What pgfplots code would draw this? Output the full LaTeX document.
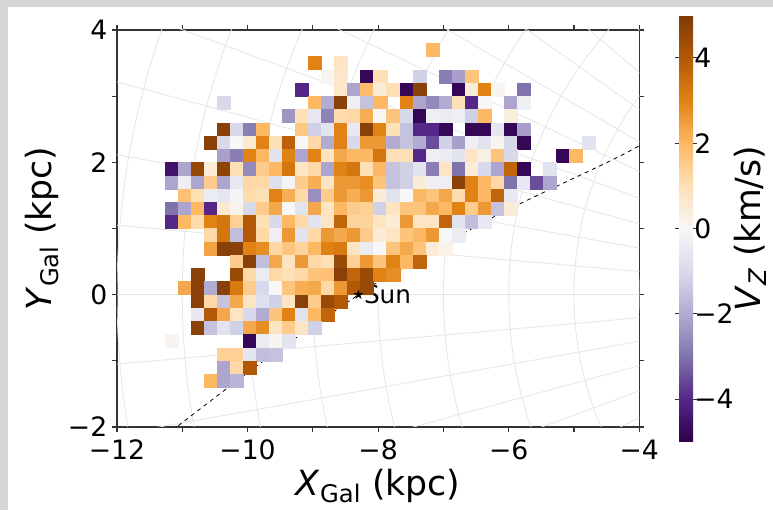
\documentclass[border=0pt]{standalone}
\usepackage{fontspec}
\setmainfont{DejaVu Sans}
\usepackage{pgfplots}
\pgfplotsset{compat=1.18}
\definecolor{gridc}{HTML}{E6E6E6}
\definecolor{frame}{HTML}{D6D6D6}
\definecolor{spine}{HTML}{333333}

\pgfplotsset{
  colormap={puor}{rgb255=(45,0,75) rgb255=(84,39,136) rgb255=(128,115,172)
    rgb255=(178,171,210) rgb255=(216,218,235) rgb255=(247,247,247)
    rgb255=(254,224,182) rgb255=(253,184,99) rgb255=(224,130,20)
    rgb255=(179,88,6) rgb255=(127,59,8)},
}

\begin{document}
\begin{tikzpicture}
% page: 773x510 px at 0.75pt/px, axis box at px (117..639, 30..427)
\fill[frame] (-87.75pt,-62.25pt) rectangle (492pt,320.25pt);
\fill[white] (-81.75pt,-62.25pt) rectangle (492pt,315pt);
\begin{axis}[
  name=ax, at={(0,0)}, anchor=south west,
  width=391.7pt, height=297.75pt, scale only axis,
  xmin=-12, xmax=-4, ymin=-2, ymax=4,
  xtick={-12,-10,-8,-6,-4}, xticklabels={−12,−10,−8,−6,−4},
  ytick={-2,0,2,4}, yticklabels={−2,0,2,4},
  minor xtick={-11,-9,-7,-5}, minor ytick={-1,1,3},
  tick label style={font=\fontsize{20}{24}\selectfont},
  xticklabel style={yshift=-2.5pt},
  label style={font=\fontsize{26}{30}\selectfont},
  xlabel={\textit{X}\textsubscript{Gal} (kpc)},
  ylabel={\textit{Y}\textsubscript{Gal} (kpc)},
  tick align=outside, xtick pos=both, ytick pos=both,
  xticklabel pos=bottom, yticklabel pos=left,
  major tick length=3.75pt, minor tick length=3.75pt,
  axis line style={spine, line width=0.8pt},
  every tick/.style={spine, line width=0.8pt},
  every minor tick/.style={spine, line width=0.8pt},
  point meta min=-5, point meta max=5,
  colormap name=puor,
  colorbar,
  colorbar style={
    at={(parent axis.east)}, anchor=west, xshift=21.3pt,
    width=10.5pt, height=320pt, scale only axis,
    ytick={-4,-2,0,2,4}, yticklabels={−4,−2,0,2,4},
    yticklabel style={font=\fontsize{20}{24}\selectfont, inner xsep=0pt, xshift=-2.5pt},
    ylabel={\textit{V}\textsubscript{\textit{Z}} (km/s)},
    ylabel style={font=\fontsize{26}{30}\selectfont, inner sep=0pt},
    tick align=outside, major tick length=3.2pt,
    axis line style={draw=none},
    every tick/.style={spine, line width=0.8pt},
  },
]
% galactocentric polar grid
\pgfplotsinvokeforeach{4,5,...,13}{
  \draw[gridc, line width=0.6pt] (axis cs:0,0) ellipse [x radius=#1, y radius=#1];
}
\addplot[gridc, line width=0.6pt, forget plot] coordinates {(0,0) (-18.13,-8.45)};
\addplot[gridc, line width=0.6pt, forget plot] coordinates {(0,0) (-18.79,-6.84)};
\addplot[gridc, line width=0.6pt, forget plot] coordinates {(0,0) (-19.32,-5.18)};
\addplot[gridc, line width=0.6pt, forget plot] coordinates {(0,0) (-19.70,-3.47)};
\addplot[gridc, line width=0.6pt, forget plot] coordinates {(0,0) (-19.92,-1.74)};
\addplot[gridc, line width=0.6pt, forget plot] coordinates {(0,0) (-20,0)};
\addplot[gridc, line width=0.6pt, forget plot] coordinates {(0,0) (-19.92,1.74)};
\addplot[gridc, line width=0.6pt, forget plot] coordinates {(0,0) (-19.70,3.47)};
\addplot[gridc, line width=0.6pt, forget plot] coordinates {(0,0) (-19.32,5.18)};
\addplot[gridc, line width=0.6pt, forget plot] coordinates {(0,0) (-18.79,6.84)};
\addplot[gridc, line width=0.6pt, forget plot] coordinates {(0,0) (-18.13,8.45)};
\addplot[gridc, line width=0.6pt, forget plot] coordinates {(0,0) (-17.32,10)};
\addplot[gridc, line width=0.6pt, forget plot] coordinates {(0,0) (-16.38,11.47)};
\addplot[gridc, line width=0.6pt, forget plot] coordinates {(0,0) (-15.32,12.86)};
\addplot[gridc, line width=0.6pt, forget plot] coordinates {(0,0) (-14.14,14.14)};

% binned V_Z map (0.2 kpc cells)
\addplot[scatter, only marks, mark=square*, mark size=4.9pt,
  mark options={line width=0.2pt}, point meta=explicit,
  scatter/use mapped color={draw=mapped color, fill=mapped color}]
coordinates {
(-7.17,3.7)[2.0]
(-8.97,3.5)[3.0] (-8.57,3.5)[0.8]
(-8.77,3.3)[0.1] (-8.57,3.3)[0.7] (-8.17,3.3)[-4.8] (-7.97,3.3)[1.0] (-7.37,3.3)[-1.2] (-6.97,3.3)[-2.8] (-6.77,3.3)[-2.2] (-6.57,3.3)[1.7]
(-9.17,3.1)[-4.0] (-8.57,3.1)[0.7] (-8.37,3.1)[-2.1] (-8.17,3.1)[1.9] (-7.97,3.1)[0.5] (-7.77,3.1)[1.0] (-7.57,3.1)[-4.8] (-7.37,3.1)[4.8] (-6.77,3.1)[-4.8] (-6.57,3.1)[0.5] (-6.37,3.1)[3.0] (-6.17,3.1)[0.1] (-5.77,3.1)[-3.0]
(-10.37,2.9)[-1.0] (-8.97,2.9)[2.0] (-8.77,2.9)[-2.0] (-8.57,2.9)[4.8] (-8.37,2.9)[-0.3] (-8.17,2.9)[-1.5] (-7.97,2.9)[2.0] (-7.57,2.9)[3.0] (-7.37,2.9)[-2.1] (-7.17,2.9)[-2.6] (-6.97,2.9)[-2.0] (-6.77,2.9)[1.0] (-6.57,2.9)[-4.0] (-6.37,2.9)[0.0] (-5.97,2.9)[-2.1] (-5.77,2.9)[-0.3]
(-9.37,2.7)[-2.4] (-9.17,2.7)[1.0] (-8.97,2.7)[-0.5] (-8.77,2.7)[-2.7] (-8.57,2.7)[1.1] (-8.37,2.7)[1.2] (-8.17,2.7)[2.2] (-7.97,2.7)[0.0] (-7.77,2.7)[1.7] (-7.57,2.7)[-1.0] (-7.37,2.7)[-4.8] (-7.17,2.7)[-0.3] (-6.97,2.7)[-0.4] (-6.77,2.7)[-0.3] (-6.57,2.7)[-1.2] (-6.37,2.7)[2.0] (-5.97,2.7)[0.4]
(-10.37,2.5)[4.8] (-10.17,2.5)[-1.0] (-9.97,2.5)[-2.8] (-9.77,2.5)[2.0] (-9.17,2.5)[1.6] (-8.97,2.5)[-1.2] (-8.77,2.5)[-0.7] (-8.57,2.5)[3.0] (-8.37,2.5)[-0.5] (-8.17,2.5)[4.8] (-7.97,2.5)[3.0] (-7.77,2.5)[1.0] (-7.57,2.5)[-1.5] (-7.37,2.5)[-4.0] (-7.17,2.5)[-4.0] (-6.97,2.5)[-4.8] (-6.57,2.5)[-4.8] (-6.37,2.5)[-4.8] (-6.17,2.5)[-0.6] (-5.97,2.5)[-4.8] (-5.77,2.5)[-2.2]
(-10.57,2.3)[4.8] (-10.37,2.3)[-1.0] (-10.17,2.3)[0.0] (-9.97,2.3)[0.6] (-9.77,2.3)[3.0] (-9.57,2.3)[1.0] (-9.37,2.3)[3.8] (-9.17,2.3)[0.0] (-8.97,2.3)[1.2] (-8.77,2.3)[-2.0] (-8.57,2.3)[3.0] (-8.37,2.3)[-1.0] (-8.17,2.3)[2.6] (-7.97,2.3)[2.6] (-7.77,2.3)[-2.0] (-7.57,2.3)[-1.5] (-7.37,2.3)[-2.0] (-7.17,2.3)[-3.5] (-6.97,2.3)[-1.2] (-6.77,2.3)[-2.2] (-6.57,2.3)[-0.3] (-6.37,2.3)[-0.7] (-6.17,2.3)[0.1] (-5.97,2.3)[-1.0] (-5.77,2.3)[-4.8] (-4.77,2.3)[-0.7]
(-10.37,2.1)[-2.2] (-10.17,2.1)[-2.8] (-9.97,2.1)[3.0] (-9.77,2.1)[2.0] (-9.57,2.1)[-0.7] (-9.37,2.1)[3.0] (-9.17,2.1)[-2.1] (-8.97,2.1)[3.0] (-8.77,2.1)[0.8] (-8.57,2.1)[2.3] (-8.37,2.1)[2.0] (-8.17,2.1)[2.0] (-7.97,2.1)[3.3] (-7.77,2.1)[1.0] (-7.57,2.1)[1.0] (-7.37,2.1)[-4.0] (-7.17,2.1)[-0.3] (-6.97,2.1)[-0.4] (-6.77,2.1)[-0.7] (-6.57,2.1)[0.8] (-6.37,2.1)[0.3] (-6.17,2.1)[1.7] (-5.97,2.1)[-1.0] (-5.17,2.1)[-4.8] (-4.97,2.1)[2.0]
(-11.17,1.9)[-4.5] (-10.97,1.9)[-2.1] (-10.77,1.9)[4.6] (-10.57,1.9)[0.5] (-10.37,1.9)[4.7] (-10.17,1.9)[1.0] (-9.97,1.9)[-2.6] (-9.77,1.9)[1.5] (-9.57,1.9)[2.0] (-9.37,1.9)[3.3] (-9.17,1.9)[0.8] (-8.97,1.9)[1.2] (-8.77,1.9)[-2.1] (-8.57,1.9)[3.0] (-8.37,1.9)[3.3] (-8.17,1.9)[1.0] (-7.97,1.9)[2.0] (-7.77,1.9)[-1.5] (-7.57,1.9)[-1.2] (-7.37,1.9)[-0.7] (-7.17,1.9)[-2.8] (-6.97,1.9)[0.8] (-6.77,1.9)[-3.0] (-6.57,1.9)[0.5] (-6.37,1.9)[-1.0] (-6.17,1.9)[-2.1] (-5.97,1.9)[3.7] (-5.77,1.9)[-4.8] (-5.37,1.9)[-0.7]
(-11.17,1.7)[-2.1] (-10.97,1.7)[-0.3] (-10.77,1.7)[-2.1] (-10.57,1.7)[1.5] (-10.37,1.7)[-2.1] (-10.17,1.7)[-0.5] (-9.97,1.7)[1.2] (-9.77,1.7)[1.2] (-9.57,1.7)[-0.8] (-9.37,1.7)[-0.1] (-9.17,1.7)[1.5] (-8.97,1.7)[2.2] (-8.77,1.7)[0.8] (-8.57,1.7)[2.6] (-8.37,1.7)[2.6] (-8.17,1.7)[2.8] (-7.97,1.7)[1.7] (-7.77,1.7)[-1.5] (-7.57,1.7)[-1.2] (-7.37,1.7)[0.5] (-7.17,1.7)[-0.3] (-6.97,1.7)[-0.3] (-6.77,1.7)[4.8] (-6.57,1.7)[3.0] (-6.37,1.7)[2.0] (-6.17,1.7)[1.2] (-5.97,1.7)[-3.0] (-5.77,1.7)[-0.5] (-5.57,1.7)[-3.5] (-5.37,1.7)[-2.1]
(-10.97,1.5)[1.8] (-10.77,1.5)[1.0] (-10.57,1.5)[-0.4] (-10.37,1.5)[-0.6] (-10.17,1.5)[-0.1] (-9.97,1.5)[1.1] (-9.77,1.5)[1.0] (-9.57,1.5)[3.0] (-9.37,1.5)[2.2] (-9.17,1.5)[1.2] (-8.97,1.5)[-2.5] (-8.77,1.5)[1.5] (-8.57,1.5)[2.6] (-8.37,1.5)[2.2] (-8.17,1.5)[2.6] (-7.97,1.5)[0.5] (-7.77,1.5)[-0.7] (-7.57,1.5)[0.0] (-7.37,1.5)[2.0] (-7.17,1.5)[1.7] (-6.97,1.5)[2.3] (-6.77,1.5)[1.1] (-6.57,1.5)[3.0] (-6.37,1.5)[2.0] (-6.17,1.5)[3.7] (-5.97,1.5)[-0.5]
(-11.17,1.3)[-3.0] (-10.97,1.3)[-2.1] (-10.77,1.3)[2.0] (-10.57,1.3)[-4.0] (-10.37,1.3)[0.6] (-10.17,1.3)[0.2] (-9.97,1.3)[-1.0] (-9.77,1.3)[1.5] (-9.57,1.3)[2.3] (-9.37,1.3)[0.0] (-9.17,1.3)[-0.7] (-8.97,1.3)[2.3] (-8.77,1.3)[0.8] (-8.57,1.3)[2.0] (-8.37,1.3)[1.5] (-8.17,1.3)[1.4] (-7.97,1.3)[-1.2] (-7.77,1.3)[0.8] (-7.57,1.3)[1.7] (-7.37,1.3)[1.7] (-7.17,1.3)[2.3] (-6.97,1.3)[2.0] (-6.77,1.3)[3.0] (-6.57,1.3)[1.5] (-6.37,1.3)[2.6] (-6.17,1.3)[-1.5] (-5.97,1.3)[0.5]
(-11.17,1.1)[-4.0] (-10.97,1.1)[2.0] (-10.77,1.1)[1.1] (-10.57,1.1)[3.0] (-10.37,1.1)[3.3] (-10.17,1.1)[1.4] (-9.97,1.1)[4.0] (-9.77,1.1)[1.0] (-9.57,1.1)[-1.0] (-9.37,1.1)[2.0] (-9.17,1.1)[1.2] (-8.97,1.1)[-0.7] (-8.77,1.1)[0.8] (-8.57,1.1)[3.7] (-8.37,1.1)[1.3] (-8.17,1.1)[1.3] (-7.97,1.1)[0.8] (-7.77,1.1)[0.5] (-7.57,1.1)[2.6] (-7.37,1.1)[0.8] (-7.17,1.1)[0.8] (-6.97,1.1)[3.7] (-6.77,1.1)[-0.7] (-6.57,1.1)[-1.6] (-6.37,1.1)[-0.5]
(-10.57,0.9)[1.2] (-10.37,0.9)[3.3] (-10.17,0.9)[-1.6] (-9.97,0.9)[4.0] (-9.77,0.9)[1.2] (-9.57,0.9)[-0.3] (-9.37,0.9)[2.6] (-9.17,0.9)[-0.7] (-8.97,0.9)[1.2] (-8.77,0.9)[2.6] (-8.57,0.9)[2.3] (-8.37,0.9)[2.6] (-8.17,0.9)[1.5] (-7.97,0.9)[0.5] (-7.77,0.9)[0.8] (-7.57,0.9)[1.7] (-7.37,0.9)[2.0] (-7.17,0.9)[2.6] (-6.97,0.9)[0.0] (-6.77,0.9)[-0.4]
(-10.57,0.7)[2.4] (-10.37,0.7)[4.8] (-10.17,0.7)[4.8] (-9.97,0.7)[3.0] (-9.77,0.7)[2.8] (-9.57,0.7)[1.2] (-9.37,0.7)[1.7] (-9.17,0.7)[1.3] (-8.97,0.7)[2.0] (-8.77,0.7)[3.0] (-8.57,0.7)[3.2] (-8.37,0.7)[0.8] (-8.17,0.7)[-0.4] (-7.97,0.7)[0.0] (-7.77,0.7)[1.7] (-7.57,0.7)[2.3] (-7.37,0.7)[1.7] (-7.17,0.7)[0.5] (-6.97,0.7)[0.2]
(-10.17,0.5)[1.5] (-9.97,0.5)[4.8] (-9.77,0.5)[-1.6] (-9.57,0.5)[2.3] (-9.37,0.5)[0.8] (-9.17,0.5)[2.6] (-8.97,0.5)[1.2] (-8.77,0.5)[1.0] (-8.57,0.5)[4.5] (-8.37,0.5)[1.4] (-8.17,0.5)[2.6] (-7.97,0.5)[1.7] (-7.77,0.5)[3.0] (-7.57,0.5)[2.0] (-7.37,0.5)[3.7]
(-10.77,0.3)[4.8] (-10.17,0.3)[4.5] (-9.97,0.3)[1.2] (-9.77,0.3)[-0.4] (-9.57,0.3)[1.2] (-9.37,0.3)[1.0] (-9.17,0.3)[1.2] (-8.97,0.3)[1.7] (-8.77,0.3)[1.8] (-8.57,0.3)[4.8] (-8.37,0.3)[3.7] (-8.17,0.3)[4.5] (-7.97,0.3)[3.0] (-7.77,0.3)[2.8]
(-10.97,0.1)[2.3] (-10.77,0.1)[4.8] (-10.57,0.1)[-2.0] (-10.37,0.1)[4.8] (-10.17,0.1)[3.2] (-9.97,0.1)[1.5] (-9.77,0.1)[-1.0] (-9.57,0.1)[0.0] (-9.37,0.1)[1.7] (-9.17,0.1)[2.2] (-8.97,0.1)[2.3] (-8.77,0.1)[1.2] (-8.57,0.1)[2.6] (-8.37,0.1)[4.0] (-8.17,0.1)[4.5]
(-10.77,-0.1)[4.8] (-10.57,-0.1)[1.2] (-10.37,-0.1)[-1.5] (-10.17,-0.1)[2.3] (-9.97,-0.1)[0.8] (-9.77,-0.1)[-0.8] (-9.57,-0.1)[-1.2] (-9.37,-0.1)[0.8] (-9.17,-0.1)[4.8] (-8.97,-0.1)[1.5] (-8.77,-0.1)[4.5] (-8.57,-0.1)[4.0]
(-10.77,-0.3)[-0.5] (-10.57,-0.3)[4.0] (-10.37,-0.3)[2.3] (-10.17,-0.3)[0.8] (-9.97,-0.3)[-1.0] (-9.77,-0.3)[-2.0] (-9.57,-0.3)[1.7] (-9.37,-0.3)[3.0] (-9.17,-0.3)[-0.7] (-8.97,-0.3)[2.0] (-8.77,-0.3)[3.7]
(-10.77,-0.5)[4.8] (-10.57,-0.5)[-1.5] (-10.37,-0.5)[-0.7] (-10.17,-0.5)[-1.2] (-9.97,-0.5)[2.3] (-9.77,-0.5)[2.8] (-9.57,-0.5)[0.8] (-9.37,-0.5)[1.5] (-9.17,-0.5)[0.8] (-8.97,-0.5)[-1.2]
(-11.17,-0.7)[0.1] (-9.97,-0.7)[-4.8] (-9.77,-0.7)[-0.4] (-9.57,-0.7)[0.1] (-9.37,-0.7)[-0.7]
(-10.37,-0.9)[1.4] (-10.17,-0.9)[1.4] (-9.97,-0.9)[-0.6] (-9.77,-0.9)[-1.6] (-9.57,-0.9)[-1.5]
(-10.37,-1.1)[-2.1] (-10.17,-1.1)[1.2] (-9.97,-1.1)[4.0]
(-10.57,-1.3)[2.0] (-10.37,-1.3)[-2.1] (-10.17,-1.3)[-1.8]
};

% selection boundary
\addplot[black, dashed, line width=0.6pt, smooth] coordinates {
(-11.06,-1.98) (-9.74,-0.99) (-8.3,0) (-8.0,0.19) (-6.24,1.17) (-4.49,2.0) (-4.0,2.25)};

% Sun
\addplot[only marks, mark=text, text mark={\fontsize{10}{10}\selectfont ★}, black] coordinates {(-8.3,0)};
\node[anchor=west, font=\fontsize{18.5}{22}\selectfont, inner sep=0pt] at (axis cs:-8.22,0) {Sun};
\end{axis}
\pgfresetboundingbox
\useasboundingbox (-87.75pt,-62.25pt) rectangle (492pt,320.25pt);
\end{tikzpicture}
\end{document}
